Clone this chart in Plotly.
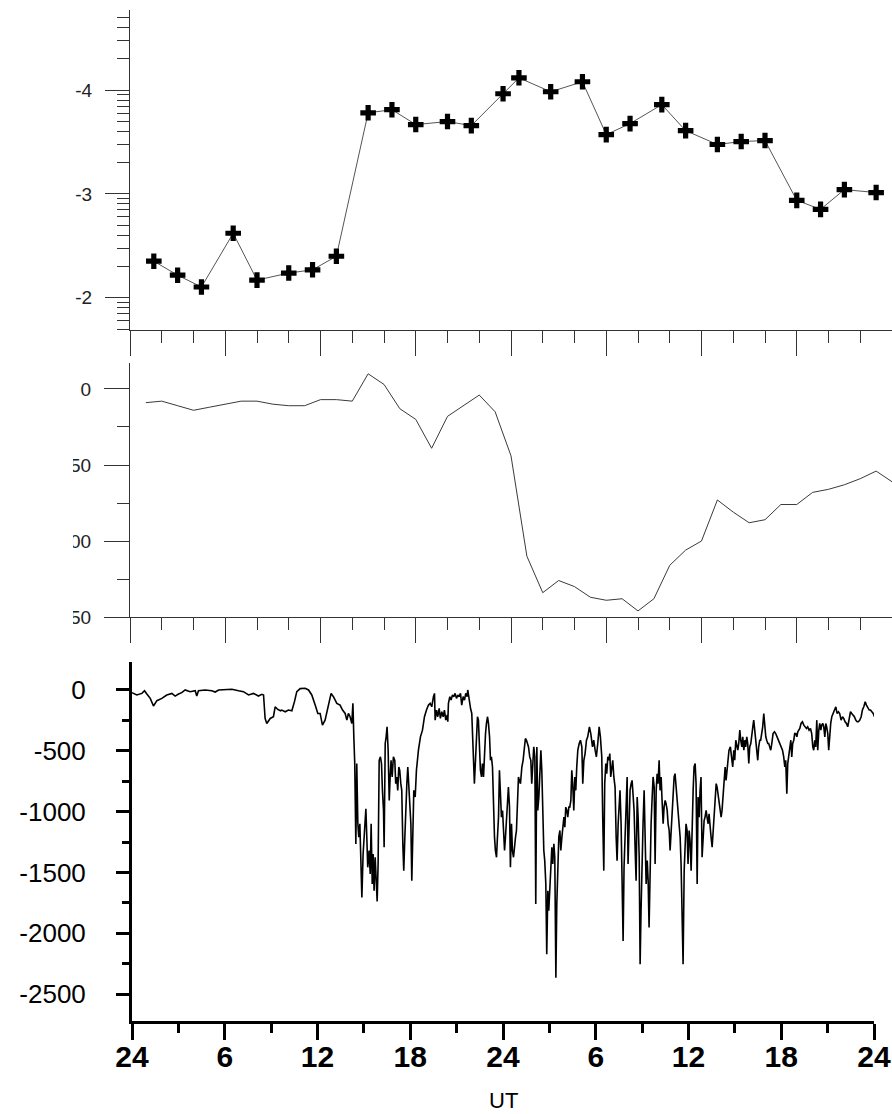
import plotly.graph_objects as go

# ---------------- panel 1: index on a log scale ----------------
p1_hours = [1.5, 3.0, 4.5, 6.5, 8.0, 10.0, 11.5, 13.0, 15.0, 16.5, 18.0, 20.0, 21.5, 23.5,
            24.5, 26.5, 28.5, 30.0, 31.5, 33.5, 35.0, 37.0, 38.5, 40.0, 42.0, 43.5, 45.0, 47.0]
p1_values = [225, 165, 127, 418, 148, 173, 186, 251, 6030, 6460, 4650, 4970, 4540, 9200,
             13100, 9620, 12000, 3720, 4750, 7230, 4060, 2990, 3190, 3260, 867, 710, 1100, 1030]
p1_tick_values = [100, 1000, 10000]
p1_tick_labels = ["-2", "-3", "-4"]

# ---------------- panel 2: hourly Dst ----------------
dst_hours = list(range(1, 49))
dst_values = [-9, -8, -11, -14, -12, -10, -8, -8, -10, -11, -11, -7, -7, -8, 10, 3,
              -13, -20, -39, -18, -11, -4, -15, -44, -110, -134, -126, -130, -137, -139, -138, -146,
              -138, -116, -106, -100, -73, -81, -88, -86, -76, -76, -68, -66, -63, -59, -54, -61]
dst_tick_values = [0, -50, -100, -150]
dst_tick_labels = ["0", "-50", "-100", "-150"]

# ---------------- panel 3: AL index ----------------
al_hours = [
    0.00, 0.31, 0.64, 0.81, 0.96, 1.18, 1.39, 1.61, 1.93, 2.25, 2.58, 2.79, 3.01, 3.22, 3.44, 3.76,
    4.09, 4.19, 4.30, 4.73, 5.16, 5.38, 5.60, 6.03, 6.46, 6.89, 7.21, 7.54, 7.86, 8.18, 8.40, 8.51,
    8.61, 8.72, 8.94, 9.15, 9.26, 9.43, 9.61,
    9.69, 9.91, 10.12, 10.34, 10.51, 10.66, 10.88, 11.20, 11.42, 11.63, 11.85, 12.02, 12.17, 12.32,
    12.49, 12.71, 12.88, 13.03, 13.25, 13.46, 13.62, 13.79, 13.90, 14.00, 14.11, 14.22, 14.29, 14.35,
    14.41, 14.48, 14.54, 14.61, 14.67, 14.74, 14.80, 14.87, 14.95, 15.04, 15.13, 15.19, 15.25, 15.34,
    15.41, 15.47, 15.54, 15.60, 15.66, 15.73, 15.79, 15.86, 15.92, 15.99, 16.07, 16.14, 16.20, 16.27,
    16.31, 16.38, 16.44, 16.50, 16.57, 16.64, 16.70, 16.76, 16.83, 16.91, 17.00, 17.06, 17.13, 17.19,
    17.26, 17.32, 17.39, 17.45, 17.52, 17.58, 17.65, 17.71, 17.78, 17.84, 17.91, 17.97, 18.04, 18.10,
    18.17, 18.23, 18.32, 18.40, 18.53, 18.66, 18.79, 18.92, 19.05, 19.18,
    19.29, 19.39, 19.50, 19.57, 19.61, 19.70, 19.78, 19.87, 19.95, 20.04, 20.13, 20.21, 20.30, 20.39,
    20.43, 20.47, 20.56, 20.64, 20.73, 20.82, 20.90, 20.99, 21.08, 21.16, 21.25, 21.33, 21.42, 21.51,
    21.59, 21.68, 21.72, 21.81, 21.90, 21.98, 22.03, 22.09, 22.15, 22.22, 22.28, 22.35, 22.41, 22.48,
    22.54, 22.61, 22.67, 22.74, 22.80, 22.87, 22.93, 23.00, 23.06, 23.13, 23.19, 23.25, 23.32, 23.38,
    23.45, 23.51, 23.58, 23.64, 23.71, 23.77, 23.84, 23.90, 23.97, 24.03, 24.10, 24.16, 24.22, 24.29,
    24.35, 24.42, 24.48, 24.55, 24.61, 24.68, 24.74, 24.81, 24.87, 24.93, 25.00, 25.06, 25.13, 25.22,
    25.30, 25.39, 25.45, 25.52, 25.58, 25.65, 25.73, 25.80, 25.86, 25.93, 25.99, 26.06, 26.12, 26.19,
    26.25, 26.32, 26.39, 26.45, 26.51, 26.58, 26.64, 26.70, 26.77, 26.83, 26.90, 26.96, 27.03, 27.09,
    27.16, 27.22, 27.29, 27.35, 27.42, 27.48, 27.55, 27.61, 27.68, 27.74, 27.81, 27.87, 27.94, 28.00,
    28.06, 28.13, 28.19, 28.26, 28.32, 28.39, 28.45, 28.51, 28.58, 28.65, 28.71, 28.77, 28.84, 28.93,
    29.01,
    29.10, 29.16, 29.23, 29.31, 29.40, 29.48, 29.59, 29.68, 29.79, 29.87, 29.96, 30.04, 30.13, 30.22,
    30.30, 30.39, 30.45, 30.52, 30.58, 30.65, 30.71, 30.78, 30.84, 30.91, 30.97, 31.04, 31.10, 31.17,
    31.25, 31.32, 31.38, 31.45, 31.51, 31.57, 31.64, 31.70, 31.77, 31.83, 31.90, 31.96, 32.03, 32.09,
    32.16, 32.22, 32.29, 32.35, 32.41, 32.48, 32.55, 32.61, 32.68, 32.74, 32.81, 32.87, 32.93, 33.00,
    33.06, 33.13, 33.19, 33.26, 33.33, 33.39, 33.45, 33.52, 33.58, 33.65, 33.71, 33.78, 33.84, 33.91,
    33.97, 34.03, 34.10, 34.16, 34.23, 34.29, 34.36, 34.42, 34.49, 34.55, 34.62, 34.68, 34.75, 34.81,
    34.88, 34.94, 35.00, 35.07, 35.13, 35.20, 35.26, 35.33, 35.39, 35.46, 35.52, 35.59, 35.65, 35.72,
    35.78, 35.84, 35.91, 35.97, 36.04, 36.10, 36.17, 36.23, 36.30, 36.36, 36.43, 36.49, 36.56, 36.62,
    36.69, 36.75, 36.81, 36.88, 36.94, 37.01, 37.07, 37.14, 37.20, 37.27, 37.33, 37.40, 37.46, 37.53,
    37.59, 37.66, 37.72, 37.79, 37.85, 37.91, 37.98, 38.04, 38.11, 38.17, 38.24, 38.30, 38.37, 38.43,
    38.50, 38.56, 38.62, 38.71,
    38.80, 38.86, 38.93, 38.99, 39.06, 39.12, 39.19, 39.25, 39.32, 39.38, 39.45, 39.51, 39.58, 39.64,
    39.70, 39.77, 39.83, 39.90, 39.96, 40.03, 40.09, 40.16, 40.22, 40.29, 40.35, 40.42, 40.48, 40.54,
    40.61, 40.67, 40.74, 40.80, 40.87, 40.93, 41.00, 41.06, 41.13, 41.19, 41.26, 41.32, 41.39, 41.47,
    41.56, 41.64, 41.73, 41.82, 41.90, 41.99, 42.08, 42.16, 42.23, 42.29, 42.36, 42.42, 42.49, 42.55,
    42.62, 42.68, 42.74, 42.81, 42.87, 42.94, 43.01, 43.07, 43.13, 43.20, 43.28, 43.37, 43.46, 43.54,
    43.63, 43.71, 43.80, 43.89, 43.97, 44.04, 44.10, 44.17, 44.23, 44.30, 44.36, 44.43, 44.49, 44.56,
    44.62, 44.69, 44.75, 44.82, 44.88, 44.94, 45.01, 45.07, 45.14, 45.20, 45.27, 45.35, 45.44, 45.53,
    45.61, 45.70, 45.78, 45.87, 45.96, 46.04, 46.13, 46.22, 46.30, 46.39, 46.48, 46.56, 46.65, 46.73,
    46.82, 46.91, 46.99, 47.08, 47.17, 47.25, 47.34, 47.43, 47.51, 47.60, 47.69, 47.77, 47.86, 47.95,
    48.03,
]
al_values = [
    -22, -41, -28, -6, -33, -69, -132, -88, -69, -41, -28, -50, -33, -22, 0, -14,
    -6, -50, -6, 0, -6, -17, 0, 6, 6, -6, -14, -41, -28, -50, -36, -41,
    -234, -275, -234, -220, -138, -160, -171,
    -165, -179, -165, -171, -96, -14, 11, 14, 0, -41, -124, -193, -193, -289,
    -248, -110, -28, -55, -110, -124, -165, -193, -248, -193, -220, -275, -110, -385,
    -605, -1265, -605, -1100, -1210, -1100, -1430, -1705, -1348, -1100, -976, -1210, -1458, -1320,
    -1513, -1100, -1595, -1348, -1650, -1375, -1595, -1738, -1430, -578, -550, -605, -825, -990,
    -1293, -440, -385, -303, -495, -908, -715, -578, -715, -550, -578, -770, -715, -825,
    -633, -660, -770, -825, -1265, -1485, -1210, -935, -770, -633, -825, -908, -1100, -1568,
    -1210, -825, -880, -660, -495, -385, -330, -220, -165, -124,
    -110, -138, -55, -28, -248, -165, -220, -151, -234, -179, -220, -165, -248, -206,
    -261, -110, -55, -83, -41, -55, -28, -69, -41, -55, -28, -124, -55, -83,
    -28, -55, 0, -83, -151, -193, -413, -495, -770, -578, -330, -220, -248, -495,
    -660, -715, -605, -715, -495, -358, -275, -220, -275, -385, -578, -550, -633, -935,
    -1210, -1320, -1375, -1210, -1045, -660, -825, -1045, -990, -1155, -1320, -1210, -1100, -935,
    -798, -963, -1458, -1100, -1320, -1375, -1265, -1210, -1155, -963, -715, -743, -770, -633,
    -578, -468, -399, -413, -440, -468, -550, -578, -770, -633, -468, -550, -1760, -468,
    -990, -880, -633, -495, -660, -1045, -1320, -1403, -1595, -2173, -1650, -1815, -1595, -1375,
    -1293, -1430, -1265, -1375, -2365, -1760, -1430, -1210, -1155, -1320, -1210, -1100, -1045, -1128,
    -963, -990, -1045, -963, -963, -908, -660, -770, -990, -715, -825, -633, -495, -440,
    -413,
    -468, -770, -578, -523, -413, -385, -303, -358, -468, -413, -495, -550, -440, -303,
    -385, -550, -1045, -1485, -770, -605, -688, -550, -578, -523, -715, -605, -578, -715,
    -798, -1210, -1403, -1100, -908, -825, -1100, -1595, -2063, -1458, -1210, -825, -715, -1430,
    -1018, -825, -770, -743, -853, -990, -1320, -1568, -880, -1045, -1375, -2255, -1815, -1320,
    -1100, -825, -1210, -1595, -1403, -1568, -1953, -1320, -1100, -880, -715, -798, -1430, -825,
    -688, -770, -578, -825, -715, -908, -1100, -963, -908, -935, -990, -1100, -1155, -1320,
    -1155, -1100, -853, -715, -688, -798, -908, -963, -1073, -1210, -1430, -1953, -2255, -1485,
    -1210, -1100, -1155, -1430, -1155, -1238, -1485, -1045, -825, -633, -605, -770, -1595, -880,
    -1045, -825, -715, -1375, -1210, -1073, -1045, -990, -1045, -1100, -1018, -1155, -1210, -1293,
    -1155, -1100, -908, -770, -798, -853, -908, -963, -1045, -990, -853, -715, -633, -743,
    -660, -578, -495, -468,
    -578, -633, -495, -578, -413, -468, -495, -440, -330, -413, -468, -385, -495, -413,
    -468, -385, -440, -605, -468, -440, -358, -303, -248, -330, -385, -523, -578, -468,
    -413, -413, -358, -303, -193, -330, -385, -413, -440, -440, -468, -495, -440, -358,
    -344, -358, -385, -413, -440, -468, -495, -550, -633, -578, -853, -605, -550, -468,
    -413, -550, -440, -413, -358, -358, -385, -344, -330, -316, -275, -261, -289, -303,
    -316, -303, -330, -316, -358, -468, -495, -413, -468, -248, -495, -330, -275, -330,
    -289, -275, -303, -385, -275, -303, -358, -495, -330, -275, -220, -193, -165, -138,
    -193, -179, -193, -248, -220, -234, -261, -275, -303, -220, -179, -193, -206, -220,
    -248, -261, -261, -248, -220, -165, -138, -96, -124, -151, -165, -165, -179, -193,
    -220,
]
al_tick_values = [0, -500, -1000, -1500, -2000, -2500]
al_tick_labels = ["0", "-500", "-1000", "-1500", "-2000", "-2500"]
ut_tick_values = [0, 6, 12, 18, 24, 30, 36, 42, 48]
ut_tick_labels = ["24", "6", "12", "18", "24", "6", "12", "18", "24"]

W, H = 892, 1114


def px_x(p):
    return p / W


def px_y(p):
    return 1 - p / H


LABEL_FONT = "Liberation Sans, Arial, sans-serif"
GREY = "#333333"

fig = go.Figure()

fig.add_trace(go.Scatter(
    x=p1_hours, y=p1_values, mode="lines+markers", xaxis="x", yaxis="y",
    line=dict(color="#555555", width=1),
    marker=dict(symbol="cross", size=13, color="black", line=dict(width=0)),
))
fig.add_trace(go.Scatter(
    x=dst_hours, y=dst_values, mode="lines", xaxis="x2", yaxis="y2",
    line=dict(color="#3a3a3a", width=1),
))
fig.add_trace(go.Scatter(
    x=al_hours, y=al_values, mode="lines", xaxis="x3", yaxis="y3",
    line=dict(color="black", width=1.6),
))

hour_minor = [h for h in range(0, 49, 2) if h % 6 != 0]
top_x = dict(
    range=[0, 48], automargin=False, showgrid=False, zeroline=False, showline=True,
    linecolor=GREY, linewidth=1,
    ticks="outside", tickmode="array", tickvals=ut_tick_values, ticklen=25, tickwidth=1,
    tickcolor=GREY, showticklabels=False,
    minor=dict(tickmode="array", tickvals=hour_minor, ticks="outside", ticklen=12,
               tickwidth=1, tickcolor=GREY),
)

log_minor = [m * 10 ** d for d in range(1, 5) for m in range(2, 10) if 10 ** 1.69 <= m * 10 ** d <= 10 ** 4.77]

# white band that trims the left side of the upper tick labels
shapes = [dict(
    type="rect", xref="paper", yref="paper", x0=0, x1=px_x(73), y0=px_y(640), y1=1,
    fillcolor="white", line=dict(width=0), layer="above",
)]

fig.update_layout(
    width=W, height=H, margin=dict(l=0, r=0, t=0, b=0, autoexpand=False),
    paper_bgcolor="white", plot_bgcolor="white", showlegend=False,
    xaxis=dict(domain=[px_x(130), 1.0], anchor="y", **top_x),
    yaxis=dict(
        domain=[px_y(330), px_y(10)], anchor="x", type="log", range=[1.69, 4.77], automargin=False,
        showgrid=False, zeroline=False, showline=True, linecolor=GREY, linewidth=1,
        ticks="outside", tickmode="array", tickvals=p1_tick_values, ticktext=p1_tick_labels,
        ticklen=24, tickwidth=1, tickcolor=GREY, ticklabelstandoff=9,
        tickfont=dict(family=LABEL_FONT, size=19, color="#222222"),
        minor=dict(tickmode="array", tickvals=log_minor, ticks="outside", ticklen=12,
                   tickwidth=1, tickcolor=GREY),
    ),
    xaxis2=dict(domain=[px_x(130), 1.0], anchor="y2", **top_x),
    yaxis2=dict(
        domain=[px_y(617), px_y(363)], anchor="x2", range=[-150, 17.1], automargin=False,
        showgrid=False, zeroline=False, showline=True, linecolor=GREY, linewidth=1,
        ticks="outside", tickmode="array", tickvals=dst_tick_values, ticktext=dst_tick_labels,
        ticklen=25, tickwidth=1, tickcolor=GREY, ticklabelstandoff=9,
        tickfont=dict(family=LABEL_FONT, size=19, color="#222222"),
        minor=dict(tickmode="array", tickvals=[-25, -75, -125], ticks="outside", ticklen=12,
                   tickwidth=1, tickcolor=GREY),
    ),
    xaxis3=dict(
        domain=[px_x(132), px_x(874)], anchor="y3", range=[0, 48], automargin=False,
        showgrid=False, zeroline=False, showline=True, linecolor="black", linewidth=3,
        ticks="outside", tickmode="array", tickvals=ut_tick_values, ticktext=ut_tick_labels,
        ticklen=16, tickwidth=3, tickcolor="black", ticklabelstandoff=-9,
        tickfont=dict(family="Liberation Sans Narrow, Arial Narrow, Liberation Sans, sans-serif",
                      size=30, color="black", weight="bold"),
        minor=dict(tickmode="array", tickvals=[3, 9, 15, 21, 27, 33, 39, 45], ticks="outside",
                   ticklen=9, tickwidth=3, tickcolor="black"),
    ),
    yaxis3=dict(
        domain=[px_y(1021), px_y(662)], anchor="x3", range=[-2721, 230], automargin=False,
        showgrid=False, zeroline=False, showline=True, linecolor="black", linewidth=3,
        ticks="outside", tickmode="array", tickvals=al_tick_values, ticktext=al_tick_labels,
        ticklen=13, tickwidth=3, tickcolor="black", ticklabelstandoff=25,
        tickfont=dict(family=LABEL_FONT, size=26, color="black"),
        minor=dict(tickmode="array", tickvals=[-250, -750, -1250, -1750, -2250], ticks="outside",
                   ticklen=7, tickwidth=3, tickcolor="black"),
    ),
    annotations=[dict(
        text="UT", xref="x3 domain", yref="paper", x=0.5, y=0,
        xanchor="center", yanchor="bottom", showarrow=False, borderpad=0,
        font=dict(family=LABEL_FONT, size=22, color="black"),
    )],
    shapes=shapes,
)

fig.write_html("out.html")
